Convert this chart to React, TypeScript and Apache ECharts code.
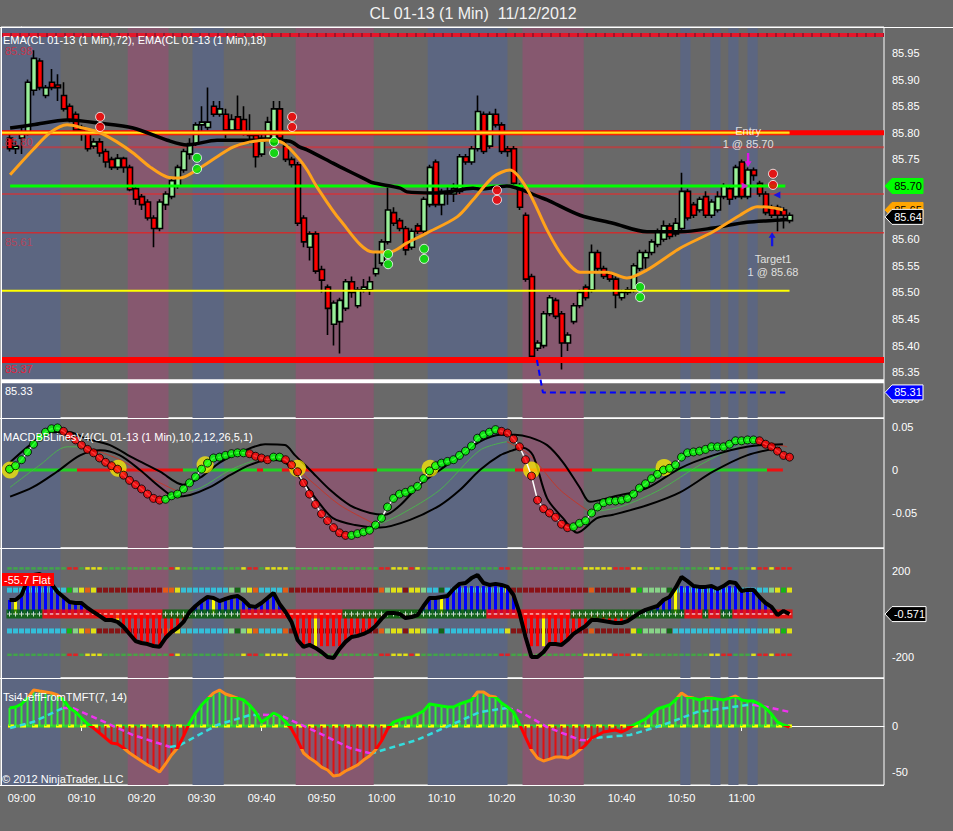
import React, { useEffect, useRef } from "react";
import * as echarts from "echarts";

const FONT = '"Liberation Sans", Arial, "DejaVu Sans", sans-serif';

// ---------- axes (x = minutes after 09:00) ----------
const FIRST_BAR = -2; // 08:58
const X_MIN = -3.42;
const X_MAX = 143.75;
const timeTicks = [0, 10, 20, 30, 40, 50, 60, 70, 80, 90, 100, 110, 120];
const priceTicks = [85.3, 85.35, 85.4, 85.45, 85.5, 85.55, 85.6, 85.65, 85.7, 85.75, 85.8, 85.85, 85.9, 85.95];
const priceTickLabels = [85.3, 85.35, 85.4, 85.45, 85.5, 85.55, 85.6, 85.75, 85.8, 85.85, 85.9, 85.95];
const macdTicks = [0.05, 0, -0.05];
const cciTicks = [200, 0, -200];
const cciTickLabels = [200, -200];
const tsiTicks = [0, -50];
const PRICE_RANGE = [85.2639, 85.9989];
const MACD_RANGE = [-0.0907, 0.0605];
const CCI_RANGE = [-298, 307];
const TSI_RANGE = [-64.1, 52.2];

const TITLE = "CL 01-13 (1 Min)  11/12/2012";
const PRICE_LABEL = "EMA(CL 01-13 (1 Min),72), EMA(CL 01-13 (1 Min),18)";
const MACD_LABEL = "MACDBBLinesV4(CL 01-13 (1 Min),10,2,12,26,5,1)";
const TSI_LABEL = "Tsi4JeffFromTMFT(7, 14)";
const COPYRIGHT = "\u00a9 2012 NinjaTrader, LLC";
const CCI_STATE = "-55.7 Flat";

// ---------- price bars: open, close, low, high ----------
const candles = [
  [85.79, 85.77, 85.765, 85.8], [85.77, 85.775, 85.76, 85.785], [85.79, 85.8, 85.76, 85.81], [85.8, 85.895, 85.795, 85.9],
  [85.88, 85.94, 85.87, 85.955], [85.935, 85.885, 85.88, 85.94], [85.87, 85.885, 85.865, 85.89], [85.895, 85.885, 85.88, 85.92],
  [85.89, 85.885, 85.86, 85.91], [85.87, 85.845, 85.84, 85.895], [85.85, 85.825, 85.82, 85.855], [85.835, 85.805, 85.8, 85.84],
  [85.81, 85.805, 85.785, 85.815], [85.8, 85.77, 85.765, 85.805], [85.775, 85.783, 85.77, 85.79], [85.783, 85.762, 85.755, 85.79],
  [85.765, 85.745, 85.735, 85.77], [85.75, 85.735, 85.73, 85.755], [85.735, 85.752, 85.73, 85.76], [85.752, 85.735, 85.725, 85.755],
  [85.735, 85.693, 85.69, 85.74], [85.695, 85.675, 85.665, 85.7], [85.68, 85.665, 85.655, 85.685], [85.67, 85.64, 85.635, 85.675],
  [85.64, 85.62, 85.585, 85.645], [85.62, 85.67, 85.615, 85.675], [85.665, 85.685, 85.655, 85.69], [85.68, 85.71, 85.675, 85.715],
  [85.7, 85.735, 85.695, 85.74], [85.73, 85.765, 85.725, 85.77], [85.76, 85.78, 85.75, 85.79], [85.78, 85.815, 85.775, 85.82],
  [85.815, 85.82, 85.8, 85.85], [85.81, 85.82, 85.805, 85.885], [85.85, 85.835, 85.83, 85.86], [85.835, 85.845, 85.83, 85.86],
  [85.835, 85.805, 85.79, 85.845], [85.805, 85.825, 85.8, 85.835], [85.83, 85.805, 85.8, 85.87], [85.825, 85.8, 85.795, 85.85],
  [85.8, 85.795, 85.78, 85.835], [85.795, 85.755, 85.735, 85.8], [85.76, 85.79, 85.755, 85.8], [85.79, 85.82, 85.785, 85.83],
  [85.78, 85.845, 85.775, 85.86], [85.845, 85.79, 85.785, 85.86], [85.775, 85.75, 85.745, 85.785], [85.75, 85.74, 85.735, 85.755],
  [85.74, 85.63, 85.625, 85.745], [85.64, 85.595, 85.585, 85.645], [85.585, 85.61, 85.56, 85.615], [85.61, 85.54, 85.535, 85.615],
  [85.543, 85.523, 85.5, 85.55], [85.51, 85.47, 85.42, 85.515], [85.44, 85.48, 85.4, 85.485], [85.445, 85.485, 85.385, 85.49],
  [85.47, 85.52, 85.465, 85.525], [85.52, 85.5, 85.49, 85.53], [85.475, 85.505, 85.47, 85.51], [85.505, 85.51, 85.5, 85.525],
  [85.505, 85.52, 85.495, 85.53], [85.535, 85.545, 85.53, 85.575], [85.555, 85.595, 85.55, 85.6], [85.595, 85.655, 85.59, 85.7],
  [85.65, 85.63, 85.625, 85.66], [85.635, 85.62, 85.615, 85.64], [85.62, 85.58, 85.57, 85.625], [85.585, 85.615, 85.58, 85.62],
  [85.625, 85.615, 85.61, 85.63], [85.615, 85.675, 85.61, 85.68], [85.665, 85.735, 85.66, 85.74], [85.745, 85.665, 85.66, 85.75],
  [85.665, 85.69, 85.645, 85.695], [85.69, 85.685, 85.665, 85.7], [85.685, 85.695, 85.67, 85.705], [85.69, 85.755, 85.685, 85.76],
  [85.755, 85.745, 85.74, 85.76], [85.745, 85.77, 85.74, 85.775], [85.77, 85.84, 85.765, 85.87], [85.835, 85.765, 85.76, 85.84],
  [85.775, 85.835, 85.77, 85.84], [85.835, 85.815, 85.81, 85.845], [85.815, 85.765, 85.76, 85.82], [85.77, 85.765, 85.755, 85.775],
  [85.77, 85.705, 85.7, 85.775], [85.7, 85.66, 85.655, 85.705], [85.645, 85.525, 85.52, 85.65], [85.53, 85.38, 85.37, 85.535],
  [85.395, 85.405, 85.39, 85.41], [85.4, 85.46, 85.395, 85.465], [85.46, 85.49, 85.455, 85.495], [85.485, 85.455, 85.45, 85.49],
  [85.46, 85.405, 85.355, 85.465], [85.405, 85.42, 85.39, 85.425], [85.445, 85.475, 85.44, 85.48], [85.475, 85.5, 85.47, 85.505],
  [85.51, 85.49, 85.485, 85.515], [85.505, 85.575, 85.5, 85.59], [85.575, 85.545, 85.54, 85.58], [85.545, 85.53, 85.525, 85.55],
  [85.535, 85.525, 85.52, 85.54], [85.525, 85.495, 85.47, 85.53], [85.49, 85.5, 85.485, 85.505], [85.5, 85.505, 85.495, 85.51],
  [85.505, 85.55, 85.5, 85.555], [85.545, 85.575, 85.54, 85.58], [85.565, 85.575, 85.545, 85.58], [85.575, 85.595, 85.57, 85.6],
  [85.59, 85.615, 85.585, 85.62], [85.6, 85.625, 85.595, 85.635], [85.625, 85.605, 85.6, 85.63], [85.61, 85.63, 85.605, 85.64],
  [85.62, 85.69, 85.615, 85.725], [85.69, 85.64, 85.635, 85.695], [85.665, 85.645, 85.64, 85.67], [85.655, 85.675, 85.65, 85.68],
  [85.68, 85.645, 85.64, 85.69], [85.645, 85.67, 85.64, 85.675], [85.655, 85.68, 85.65, 85.69], [85.68, 85.7, 85.675, 85.705],
  [85.695, 85.675, 85.665, 85.7], [85.68, 85.735, 85.675, 85.74], [85.745, 85.68, 85.675, 85.75], [85.68, 85.73, 85.675, 85.735],
  [85.73, 85.72, 85.71, 85.735], [85.705, 85.685, 85.68, 85.71], [85.685, 85.65, 85.645, 85.69], [85.66, 85.645, 85.64, 85.665],
  [85.66, 85.645, 85.615, 85.665], [85.655, 85.645, 85.62, 85.66], [85.635, 85.645, 85.63, 85.65],
];

// EMA lines: [minute, price]
const ema72 = [
  [-1.9, 85.809], [1.9, 85.815], [7.6, 85.824], [13.1, 85.818], [18.6, 85.809], [24.3, 85.786], [27.6, 85.777], [32.6, 85.786],
  [36.4, 85.786], [40.9, 85.786], [44.75, 85.784], [46.4, 85.773], [47.6, 85.768], [51.9, 85.743], [53.1, 85.736], [57.6, 85.711],
  [58.6, 85.706], [63.1, 85.696], [64.25, 85.689], [68.6, 85.687], [69.75, 85.687], [75.25, 85.696], [76.4, 85.694], [80.9, 85.7],
  [83.1, 85.694], [86.4, 85.679], [87.6, 85.674], [93.1, 85.645], [98.6, 85.63], [104.25, 85.614], [109.75, 85.614],
  [115.25, 85.621], [120.9, 85.632], [126.4, 85.636], [127.6, 85.637],
];
const ema18 = [
  [-1.9, 85.721], [1.9, 85.768], [4.75, 85.8], [7.6, 85.815], [10.25, 85.809], [13.1, 85.8], [15.9, 85.783], [18.6, 85.762],
  [21.4, 85.736], [24.25, 85.717], [26.4, 85.715], [29.75, 85.734], [32.6, 85.755], [35.25, 85.773], [38.1, 85.783], [40.9, 85.786],
  [43.6, 85.781], [46.4, 85.749], [47.6, 85.73], [49.25, 85.698], [53.1, 85.636], [58.6, 85.576], [61.4, 85.576], [64.25, 85.593],
  [67.6, 85.612], [72.6, 85.642], [75.25, 85.674], [78.6, 85.717], [81.4, 85.73], [84.25, 85.695], [87.6, 85.617], [90.25, 85.567],
  [93.1, 85.538], [97.6, 85.538], [100.9, 85.527], [104.25, 85.542], [109.75, 85.583], [115.25, 85.614], [119.75, 85.645],
  [122.6, 85.661], [125.25, 85.659], [126.9, 85.655],
];

// horizontal levels
const LEVEL_TOP = 85.984;
const LEVEL_8580 = 85.8;
const LEVEL_8577 = 85.773;
const LEVEL_8570 = 85.7;
const LEVEL_8568 = 85.685;
const LEVEL_8561 = 85.612;
const LEVEL_8550 = 85.503;
const LEVEL_8537 = 85.373;
const LEVEL_8533 = 85.333;
const LEVEL_8531 = 85.312;
const LINE_END = 128; // 11:08
const GREEN_START = -1.9;
const GREEN_END = 127.3;
const STOP_START = 85.9;

const sellDots = [[13.1, 85.83], [13.1, 85.811], [45.1, 85.83], [45.1, 85.811], [79.25, 85.692], [79.25, 85.674], [125.25, 85.723], [125.25, 85.702]];
const buyDots = [[29.25, 85.753], [29.25, 85.732], [42.1, 85.783], [42.1, 85.762], [61.1, 85.572], [61.1, 85.553], [67.1, 85.582], [67.1, 85.563], [103.1, 85.51], [103.1, 85.491]];
const entryNote = { minute: 121.1, price: 85.762, text: "Entry\n1 @ 85.70" };
const targetNote = { minute: 125.25, price: 85.578, text: "Target1\n1 @ 85.68" };
const entryArrow = [121.1, 85.749];
const targetArrow = [125.1, 85.6];
const entryFill = [120.6, 85.7];
const targetFill = [125.9, 85.683];

const shadeBands = [
  ["blue", -3.42, 6.5], ["red", 17.7, 24.5], ["blue", 28.5, 33.7], ["red", 45.7, 58.7], ["blue", 67.7, 81],
  ["red", 83.5, 93.7], ["blue", 109.8, 111.5], ["blue", 114.8, 116.5], ["blue", 117.8, 119.5], ["blue", 121, 122.7],
];

// ---------- MACD panel ----------
const macd = [
  0.001, 0.005, 0.012, 0.021, 0.03, 0.038, 0.044, 0.048, 0.049, 0.045,
  0.04, 0.035, 0.029, 0.024, 0.02, 0.014, 0.009, 0.005, 0.001, -0.006,
  -0.012, -0.017, -0.022, -0.028, -0.033, -0.035, -0.034, -0.03, -0.028, -0.022,
  -0.015, -0.008, 0.001, 0.008, 0.014, 0.015, 0.017, 0.019, 0.02, 0.02,
  0.019, 0.016, 0.014, 0.012, 0.015, 0.015, 0.012, 0.006, -0.002, -0.015,
  -0.028, -0.04, -0.051, -0.059, -0.067, -0.073, -0.076, -0.076, -0.074, -0.072,
  -0.07, -0.064, -0.056, -0.043, -0.033, -0.028, -0.026, -0.023, -0.019, -0.01,
  -0.001, 0.005, 0.008, 0.01, 0.012, 0.017, 0.022, 0.028, 0.037, 0.041,
  0.044, 0.047, 0.045, 0.043, 0.036, 0.027, 0.012, -0.007, -0.035, -0.045,
  -0.05, -0.055, -0.063, -0.067, -0.066, -0.062, -0.059, -0.05, -0.043, -0.038,
  -0.036, -0.036, -0.035, -0.033, -0.028, -0.021, -0.016, -0.01, -0.005, 0.0,
  0.002, 0.006, 0.015, 0.02, 0.021, 0.022, 0.024, 0.027, 0.027, 0.027,
  0.03, 0.034, 0.034, 0.035, 0.035, 0.034, 0.03, 0.027, 0.022, 0.017,
  0.015,
];
const macdUpper = [
  [-1.9, 0.009], [1.4, 0.029], [4.75, 0.044], [8.1, 0.044], [10.6, 0.037], [14.75, 0.029], [18.6, 0.014], [23.1, -0.002],
  [26.9, -0.017], [29.75, -0.009], [33.1, 0.009], [37.25, 0.023], [40.6, 0.03], [43.9, 0.029], [45.6, 0.017], [48.1, 0.0],
  [51.4, -0.023], [54.75, -0.041], [58.1, -0.05], [60.6, -0.052], [63.1, -0.041], [66.4, -0.017], [69.75, 0.0], [73.1, 0.017],
  [76.4, 0.033], [79.75, 0.041], [82.25, 0.041], [84.75, 0.038], [87.6, 0.029], [90.25, 0.009], [93.1, -0.021], [94.75, -0.037],
  [98.6, -0.031], [104.25, -0.021], [109.75, 0.002], [115.25, 0.017], [120.9, 0.027], [126.9, 0.03],
];
const macdLower = [
  [-1.9, -0.031], [1.9, -0.02], [5.9, -0.002], [9.75, 0.017], [13.1, 0.023], [16.4, 0.017], [19.75, 0.0], [23.1, -0.02],
  [25.6, -0.031], [28.1, -0.029], [31.4, -0.02], [34.75, -0.006], [38.1, 0.006], [41.4, 0.012], [43.9, 0.009], [46.4, -0.009],
  [49.25, -0.035], [51.9, -0.056], [55.6, -0.064], [59.75, -0.067], [64.75, -0.058], [69.75, -0.041], [73.1, -0.023], [76.4, 0.0],
  [79.75, 0.017], [81.9, 0.023], [83.6, 0.026], [85.25, 0.017], [87.6, -0.033], [90.25, -0.056], [92.6, -0.073], [95.9, -0.056],
  [98.6, -0.052], [104.25, -0.041], [109.75, -0.026], [115.25, -0.002], [120.9, 0.017], [126.4, 0.026],
];
const macdSignal = [
  [-1.9, -0.02], [3.1, 0.006], [7.6, 0.027], [10.6, 0.027], [16.4, 0.012], [21.4, -0.009], [26.4, -0.026], [29.75, -0.021],
  [34.75, 0.0], [39.9, 0.014], [43.9, 0.012], [48.1, -0.012], [53.1, -0.041], [59.25, -0.064], [63.1, -0.052], [69.75, -0.023],
  [76.4, 0.023], [80.9, 0.033], [84.75, 0.017], [89.75, -0.023], [94.75, -0.049], [99.75, -0.043], [106.4, -0.023],
  [113.1, 0.006], [119.75, 0.029], [122.6, 0.035], [127.6, 0.027],
];
const macdCrosses = [[-1.9, 0.0], [16.1, 0.002], [30.6, 0.006], [46.0, 0.002], [68.1, 0.002], [85.0, 0.0], [107.1, 0.003]];
const macdZeroSegments = [
  [-2.25, 9.25, "up"], [9.25, 26.9, "down"], [26.9, 39.25, "up"], [39.25, 40.25, "down"], [40.25, 43.4, "up"],
  [43.4, 59.25, "down"], [59.25, 82.25, "up"], [82.25, 95.1, "down"], [95.1, 124.25, "up"], [124.25, 126.9, "down"],
];

// ---------- CCI panel ----------
const cci = [
  65, 65, 88, 158, 181, 186, 172, 140, 102, 79,
  56, 51, 51, 28, 9, -9, -28, -28, -37, -60,
  -93, -126, -135, -140, -149, -153, -112, -84, -65, -37,
  9, 37, 60, 79, 74, 60, 70, 79, 84, 65,
  37, 33, 51, 74, 98, 47, 9, -37, -121, -153,
  -144, -158, -177, -200, -205, -163, -130, -107, -102, -93,
  -79, -56, -23, 5, 5, 0, -19, -14, -5, 37,
  74, 74, 79, 84, 116, 140, 144, 167, 181, 144,
  135, 140, 135, 126, 88, 5, -107, -200, -200, -177,
  -140, -140, -144, -121, -93, -74, -56, -28, -28, -33,
  -37, -42, -42, -33, -14, 5, 19, 28, 37, 65,
  79, 121, 172, 153, 130, 126, 126, 130, 116, 130,
  149, 144, 107, 112, 112, 79, 51, 33, -5, 14,
  -0.571,
];
const CCI_LAST = "-0.571";
const cciYellowBars = [-1, 16, 32, 49, 70, 87, 109];
const CCI_ROW_HI = 111;
const CCI_ROW_LO = -79;
const CCI_DASH_HI = 212;
const CCI_DASH_LO = -190;
const cciRowColors =
  "cccccccccc" + "glyoy" + "rrrrrrrrrrr" + "ooy" + "cccccccc" + "ldlyo" + "cccc" + "o" + "rrrrrrrrrrrrrrr" + "olyyryyl" +
  "cc" + "d" + "cccccccccc" + "y" + "rrrrrrrrrrrrr" + "o" + "rrrrrr" + "yg" + "llll" + "d" + "cccccccccccccccc" + "lygy";
const cciDashColors =
  "gggggggggg" + "rr" + "g" + "yyy" + "ggggggggggg" + "r" + "y" + "gggggggggg" + "y" + "rr" + "g" + "yyyy" +
  "ggggggggggggggg" + "rr" + "yyy" + "r" + "y" + "ggggggggggggg" + "rr" + "gggggggggggg" + "yyyyy" + "rrr" + "yy" +
  "ggggggggggg" + "yy" + "rr" + "ggg" + "y" + "rr" + "y" + "rrr";
const cciZeroState = [["g", 6], ["r", 20], ["g", 13], ["r", 17], ["g", 24], ["r", 14], ["g", 19], ["r", 3], ["g", 1], ["r", 2], ["g", 2], ["r", 10]];

// ---------- TSI panel ----------
const tsi = [
  19.6, 20.7, 23.9, 30.4, 39.1, 38.0, 37.0, 35.9, 33.7, 28.3,
  19.6, 15.2, 8.7, 2.2, -2.2, -7.6, -13.0, -18.5, -19.6, -23.9,
  -29.3, -33.7, -38.0, -42.4, -45.7, -50.0, -41.3, -31.5, -23.9, -10.9,
  3.3, 14.1, 22.8, 29.3, 35.9, 39.1, 34.8, 32.6, 30.4, 28.3,
  22.8, 15.2, 4.3, 8.7, 14.1, 10.9, 4.3, -3.3, -15.2, -29.3,
  -34.8, -39.1, -44.6, -47.8, -54.3, -53.3, -48.9, -45.7, -42.4, -37.0,
  -32.6, -26.1, -16.3, -3.3, 4.3, 6.5, 8.7, 9.8, 13.0, 16.3,
  23.9, 22.8, 21.7, 20.7, 20.7, 23.9, 26.1, 28.3, 37.0, 37.0,
  32.6, 31.5, 25.0, 20.7, 15.2, 2.2, -12.0, -26.1, -34.8, -38.0,
  -35.9, -33.7, -33.7, -34.8, -31.5, -26.1, -20.7, -13.0, -9.8, -6.5,
  -5.4, -4.3, -6.5, -3.3, 1.1, 4.3, 7.6, 13.0, 18.5, 20.7,
  22.8, 28.3, 35.9, 31.5, 30.4, 28.3, 30.4, 30.4, 29.3, 28.3,
  30.4, 32.6, 28.3, 27.2, 27.2, 23.9, 19.6, 13.0, 4.3, 1.1,
  -1.1,
];
const tsiSignal = [
  [-1.9, -2.2], [1.9, 4.3], [6.9, 19.6], [8.6, 19.4], [13.1, 6.5], [18.6, -9.8], [24.75, -22.8], [26.4, -20.7], [32.6, 1.1],
  [38.1, 12.0], [40.25, 12.2], [43.1, 11.8], [49.25, -6.5], [54.75, -23.9], [58.1, -29.6], [58.6, -29.3], [65.9, -15.2],
  [76.4, 15.2], [80.9, 19.6], [82.6, 17.4], [87.6, -1.1], [93.1, -15.2], [94.25, -15.4], [95.25, -13.0], [101.4, -9.8],
  [106.9, 1.1], [112.6, 15.2], [120.9, 22.8], [121.9, 23.0], [124.25, 20.7], [128.1, 15.2],
];
const TSI_HOT = 32;
const TSI_COLD = -25;

// right-hand value tags
const priceTags = [
  { v: LEVEL_8570, text: "85.70", fill: "#00ff00", color: "#000000", stroke: "" },
  { v: 85.655, text: "85.65", fill: "#ffa500", color: "#000000", stroke: "" },
  { v: 85.642, text: "85.64", fill: "#000000", color: "#ffffff", stroke: "#ffffff" },
  { v: LEVEL_8531, text: "85.31", fill: "#0000ff", color: "#ffffff", stroke: "#ffffff" },
];
const leftLevelLabels = [
  { v: LEVEL_TOP, text: "85.98", color: "rgba(225,40,60,0.8)", below: 16 },
  { v: LEVEL_8580, text: "85.80", color: "rgba(225,40,60,0.8)", below: 9.5 },
  { v: LEVEL_8561, text: "85.61", color: "rgba(200,60,80,0.8)", below: 9.5 },
  { v: LEVEL_8537, text: "85.37", color: "#e8203c", below: 9.5 },
  { v: LEVEL_8533, text: "85.33", color: "#ffffff", below: 9.5 },
];

// ---------- helpers ----------
const barX = (i: number) => FIRST_BAR + i;
const pad2 = (n: number) => (n < 10 ? "0" : "") + n;
const fmtTime = (m: number) => {
  const t = 9 * 60 + Math.round(m);
  return pad2(Math.floor(t / 60)) + ":" + pad2(t % 60);
};
function directionRuns(pts: number[][]) {
  const runs: { up: boolean; pts: number[][] }[] = [];
  for (let i = 1; i < pts.length; i++) {
    const up = pts[i][1] >= pts[i - 1][1];
    const last = runs[runs.length - 1];
    if (last && last.up === up) last.pts.push(pts[i]);
    else runs.push({ up, pts: [pts[i - 1], pts[i]] });
  }
  return runs;
}
const expandRuns = (runs: any[]) => {
  const out: string[] = [];
  runs.forEach(([k, n]) => { for (let j = 0; j < n; j++) out.push(k); });
  return out;
};

function buildOption() {
  const series: any[] = [];
  const add = (s: any) => {
    series.push({ animation: false, silent: true, ...s });
    return series.length - 1;
  };
  const ranges = [PRICE_RANGE, MACD_RANGE, CCI_RANGE, TSI_RANGE];
  const shade: any = { blue: "#5c6681", red: "#86586f" };
  for (let g = 0; g < 4; g++) {
    add({
      type: "line", xAxisIndex: g, yAxisIndex: g, symbol: "none", lineStyle: { width: 0 },
      data: [[X_MIN - 20, ranges[g][0] - 1000]],
      markArea: {
        silent: true, label: { show: false },
        data: shadeBands.map(([k, a, b]: any) => [{ xAxis: a, itemStyle: { color: shade[k], opacity: 1 } }, { xAxis: b }]),
      },
    });
  }
  const seg = (g: number, pts: any[], color: string, width: number, type: any = "solid", z = 2, smooth: any = false) =>
    add({ type: "line", xAxisIndex: g, yAxisIndex: g, data: pts, symbol: "none", smooth, lineStyle: { color, width, type, cap: "butt" }, z });

  // ---- price ----
  seg(0, [[X_MIN, LEVEL_8577], [X_MAX, LEVEL_8577]], "rgba(235,40,40,0.55)", 2);
  seg(0, [[X_MIN, LEVEL_8568], [X_MAX, LEVEL_8568]], "rgba(235,40,40,0.55)", 2);
  seg(0, [[X_MIN, LEVEL_8561], [X_MAX, LEVEL_8561]], "rgba(235,30,30,0.75)", 1.5);
  add({
    type: "candlestick", xAxisIndex: 0, yAxisIndex: 0, z: 2,
    data: candles.map((c, i) => [barX(i), c[0], c[1], c[2], c[3]]),
    encode: { x: 0, y: [1, 2, 3, 4] },
    barWidth: 5.5,
    itemStyle: { color: "#99ee99", color0: "#ff0000", borderColor: "#000000", borderColor0: "#000000", borderWidth: 1.6 },
  });
  seg(0, [[X_MIN, LEVEL_TOP], [X_MAX, LEVEL_TOP]], "#e3172b", 4, "solid", 3);
  seg(0, [[X_MIN, LEVEL_TOP], [X_MAX, LEVEL_TOP]], "#a0122a", 4, [2, 7], 3);
  seg(0, [[X_MIN, LEVEL_8580], [X_MAX, LEVEL_8580]], "#ff0000", 5, "solid", 3);
  seg(0, [[X_MIN, LEVEL_8580], [LINE_END, LEVEL_8580]], "#ff9900", 3, "solid", 3);
  seg(0, [[X_MIN, LEVEL_8580], [LINE_END, LEVEL_8580]], "#ffff33", 1, "solid", 3);
  seg(0, [[GREEN_START, LEVEL_8570], [GREEN_END, LEVEL_8570]], "#00ff00", 3, "solid", 3);
  seg(0, [[X_MIN, LEVEL_8550], [LINE_END, LEVEL_8550]], "#ffff00", 2, "solid", 3);
  seg(0, [[X_MIN, LEVEL_8537], [X_MAX, LEVEL_8537]], "#ff0000", 6, "solid", 3);
  seg(0, [[X_MIN, LEVEL_8533], [X_MAX, LEVEL_8533]], "#ffffff", 4, "solid", 3);
  seg(0, [[STOP_START, LEVEL_8537], [STOP_START + 1, LEVEL_8531], [GREEN_END, LEVEL_8531]], "#0000ff", 2, [6, 4], 3);
  seg(0, ema72, "#000000", 3.5, "solid", 4, 0.3);
  seg(0, ema18, "#ffa21a", 3, "solid", 4, 0.3);
  add({
    type: "scatter", xAxisIndex: 0, yAxisIndex: 0, z: 5, symbolSize: 9,
    data: [
      ...sellDots.map((p) => ({ value: p, itemStyle: { color: "#ff0000" } })),
      ...buyDots.map((p) => ({ value: p, itemStyle: { color: "#00ee00" } })),
    ],
    itemStyle: { borderColor: "#ffffff", borderWidth: 1 },
  });
  add({
    type: "scatter", xAxisIndex: 0, yAxisIndex: 0, z: 6,
    data: [
      { value: entryArrow, symbol: "path://M2,0H4V6H6L3,10L0,6H2Z", symbolSize: [7, 14], itemStyle: { color: "#ff00ff" } },
      { value: targetArrow, symbol: "path://M3,0L6,4H4V10H2V4H0Z", symbolSize: [7, 14], itemStyle: { color: "#0000ff" } },
      { value: entryFill, symbol: "triangle", symbolRotate: -90, symbolSize: 7, itemStyle: { color: "#ff00ff" } },
      { value: targetFill, symbol: "triangle", symbolRotate: 90, symbolSize: 7, itemStyle: { color: "#0000ff" } },
    ],
  });
  add({
    type: "scatter", xAxisIndex: 0, yAxisIndex: 0, z: 6, symbolSize: 1, itemStyle: { color: "rgba(0,0,0,0)" },
    label: { show: true, color: "#ffffff", fontSize: 11, fontFamily: FONT, lineHeight: 13, align: "center" },
    data: [
      { value: [entryNote.minute, entryNote.price], label: { position: "top", distance: 2, formatter: entryNote.text } },
      { value: [targetNote.minute, targetNote.price], label: { position: "bottom", distance: 1, formatter: targetNote.text } },
    ],
  });

  // ---- MACD ----
  macdZeroSegments.forEach(([a, b, k]: any) => seg(1, [[a, 0], [b, 0]], k === "up" ? "#22d022" : "#ee1111", 3));
  directionRuns(macdSignal).forEach((r) => seg(1, r.pts, r.up ? "#4caf50" : "#c0392b", 1, "solid", 2, 0.3));
  seg(1, macdUpper, "#000000", 2, "solid", 3, 0.3);
  seg(1, macdLower, "#000000", 2, "solid", 3, 0.3);
  add({ type: "scatter", xAxisIndex: 1, yAxisIndex: 1, z: 3, symbolSize: 17, data: macdCrosses, itemStyle: { color: "rgba(255,240,0,0.92)" } });
  const macdPts = macd.map((v, i) => [barX(i), v]);
  seg(1, macdPts, "#ffffff", 1.5, "solid", 4);
  add({
    type: "scatter", xAxisIndex: 1, yAxisIndex: 1, z: 5, symbolSize: 8,
    itemStyle: { borderColor: "#000000", borderWidth: 1 },
    data: macd.map((v, i) => ({ value: [barX(i), v], itemStyle: { color: i === 0 || v >= macd[i - 1] ? "#00ff00" : "#ff0000" } })),
  });

  // ---- CCI ----
  const rowPal: any = { c: "#2ad4f0", y: "#ffff00", o: "#ff5a00", r: "#8b0000", g: "#00c800", l: "#90ee90", d: "#006400" };
  const dashPal: any = { g: "#3cb43c", r: "#ff1010", y: "#ffff00" };
  const dashData: any[] = [];
  const rowData: any[] = [];
  for (let i = 0; i < cci.length; i++) {
    const x = barX(i);
    dashData.push({ value: [x, CCI_DASH_HI], itemStyle: { color: dashPal[cciDashColors[i]] } });
    dashData.push({ value: [x, CCI_DASH_LO], itemStyle: { color: dashPal[cciDashColors[i]] } });
    rowData.push({ value: [x, CCI_ROW_HI], itemStyle: { color: rowPal[cciRowColors[i]] } });
    rowData.push({ value: [x, CCI_ROW_LO], itemStyle: { color: rowPal[cciRowColors[i]] } });
  }
  add({ type: "scatter", xAxisIndex: 2, yAxisIndex: 2, z: 2, symbol: "rect", symbolSize: [4.5, 2.5], data: dashData });
  add({ type: "scatter", xAxisIndex: 2, yAxisIndex: 2, z: 2, symbol: "rect", symbolSize: [5, 5], data: rowData });
  add({
    type: "bar", xAxisIndex: 2, yAxisIndex: 2, z: 3, barWidth: 3,
    data: cci.map((v, i) => {
      const x = barX(i);
      const yellow = cciYellowBars.indexOf(x) >= 0;
      const shown = Math.max(-150, Math.min(130, v));
      return { value: [x, shown], itemStyle: { color: yellow ? "#ffff00" : v >= 0 ? "#0000ff" : "#ff0000" } };
    }),
  });
  const zeroState = expandRuns(cciZeroState);
  add({
    type: "scatter", xAxisIndex: 2, yAxisIndex: 2, z: 4, symbol: "rect", symbolSize: [6.2, 9],
    data: zeroState.map((k, i) => ({ value: [barX(i), 0], itemStyle: { color: k === "g" ? "#006400" : "#ff0000" } })),
  });
  add({
    type: "scatter", xAxisIndex: 2, yAxisIndex: 2, z: 5, symbol: "path://M2,0H3V2H5V3H3V5H2V3H0V2H2Z", symbolSize: 5,
    itemStyle: { color: "#ffffff" },
    data: zeroState.map((k, i) => (k === "g" ? [barX(i), 0] : null)).filter((p) => p),
  });
  add({
    type: "scatter", xAxisIndex: 2, yAxisIndex: 2, z: 5, symbol: "rect", symbolSize: [3.5, 1.3],
    itemStyle: { color: "#ffffff" },
    data: zeroState.map((k, i) => (k === "r" ? [barX(i), 0] : null)).filter((p) => p),
  });
  seg(2, cci.map((v, i) => [barX(i), v]), "#000000", 4, "solid", 6);

  // ---- TSI ----
  seg(3, [[-2.25, 0], [128.4, 0]], "#33cc33", 3, "solid", 2);
  seg(3, [[-2.25, 0], [128.4, 0]], "#ffff00", 3, [6, 6], 2);
  add({
    type: "bar", xAxisIndex: 3, yAxisIndex: 3, z: 3, barWidth: 2,
    data: tsi.map((v, i) => ({ value: [barX(i), v], itemStyle: { color: v >= 0 ? "#33ee33" : "#e01010" } })),
  });
  directionRuns(tsiSignal).forEach((r) => seg(3, r.pts, r.up ? "#33dddd" : "#ee33ee", 2.5, [6, 4], 4));
  const tsiIdx = add({
    type: "line", xAxisIndex: 3, yAxisIndex: 3, z: 5, symbol: "none",
    data: tsi.map((v, i) => [barX(i), v]),
    lineStyle: { width: 3 },
  });

  const gridBox = (top: number, height: number) => ({
    left: 1, right: 69, top, height, show: true, borderColor: "#ffffff", borderWidth: 1, backgroundColor: "transparent",
  });
  const yAx = (g: number, range: number[], ticks: number[], labels: number[], fmt: any) => ({
    type: "value", gridIndex: g, position: "right", min: range[0], max: range[1],
    axisLine: { show: true, lineStyle: { color: "#ffffff", width: 1 } },
    axisTick: { show: true, inside: false, length: 5, customValues: ticks, lineStyle: { color: "#ffffff" } },
    axisLabel: { show: true, customValues: labels, formatter: fmt, color: "#ffffff", fontSize: 11, fontFamily: FONT, margin: 8 },
    splitLine: { show: false },
  });
  const xAx = (g: number) => ({
    type: "value", gridIndex: g, min: X_MIN, max: X_MAX, show: g === 3,
    axisLine: { show: true, lineStyle: { color: "#ffffff" } },
    axisTick: { show: true, length: 5, customValues: timeTicks, lineStyle: { color: "#ffffff" } },
    axisLabel: { show: true, customValues: timeTicks, formatter: fmtTime, color: "#ffffff", fontSize: 11, fontFamily: FONT, margin: 7 },
    splitLine: { show: false },
  });

  return {
    animation: false,
    backgroundColor: "#696969",
    textStyle: { fontFamily: FONT },
    grid: [gridBox(27, 391), gridBox(418, 130), gridBox(548, 130), gridBox(678, 107)],
    xAxis: [xAx(0), xAx(1), xAx(2), xAx(3)],
    yAxis: [
      yAx(0, PRICE_RANGE, priceTicks, priceTickLabels, (v: number) => v.toFixed(2)),
      yAx(1, MACD_RANGE, macdTicks, macdTicks, (v: number) => (Math.abs(v) < 1e-9 ? "0" : v.toFixed(2))),
      yAx(2, CCI_RANGE, cciTicks, cciTickLabels, (v: number) => String(Math.round(v))),
      yAx(3, TSI_RANGE, tsiTicks, tsiTicks, (v: number) => String(Math.round(v))),
    ],
    visualMap: [
      {
        type: "piecewise", show: false, seriesIndex: tsiIdx, dimension: 1,
        pieces: [
          { gt: TSI_HOT, color: "#ff8c1a" },
          { gt: 0, lte: TSI_HOT, color: "#00ff00" },
          { gt: TSI_COLD, lte: 0, color: "#ff0000" },
          { lte: TSI_COLD, color: "#ff8c1a" },
        ],
      },
    ],
    series,
  };
}

function buildGraphic(chart: any) {
  const py = (g: number, v: number) => chart.convertToPixel({ yAxisIndex: g }, v) as number;
  const els: any[] = [];
  let z = 100;
  const font = (s: number) => `${s}px ${FONT}`;
  const text = (x: number, y: number, t: string, fill: string, size = 11, align = "left") =>
    els.push({
      type: "text", x, y, z: z++, silent: true,
      style: { text: t, fill, font: font(size), align, verticalAlign: "middle", textAlign: align, textVerticalAlign: "middle" },
    });
  const hl = (y: number, x2: number) =>
    els.push({ type: "line", z: z++, silent: true, shape: { x1: 0, y1: y, x2, y2: y }, style: { stroke: "#ffffff", lineWidth: 1 } });
  hl(27.5, 953);
  hl(418.5, 884);
  hl(548.5, 884);
  hl(678.5, 884);
  hl(785.5, 884);
  els.push({ type: "line", z: z++, silent: true, shape: { x1: 1.5, y1: 27, x2: 1.5, y2: 786 }, style: { stroke: "#ffffff", lineWidth: 1 } });
  text(473, 13.5, TITLE, "#f2f2f2", 16, "center");
  leftLevelLabels.forEach((l) => text(5, py(0, l.v) + l.below, l.text, l.color));
  text(3, 39.5, PRICE_LABEL, "#ffffff");
  text(3, 436.5, MACD_LABEL, "#ffffff");
  text(3, 696.5, TSI_LABEL, "#ffffff");
  text(2, 779, COPYRIGHT, "#ffffff");
  els.push({ type: "rect", z: z++, silent: true, shape: { x: 2, y: 573, width: 52, height: 13 }, style: { fill: "#ff0000" } });
  text(4, 579.5, CCI_STATE, "#ffffff");
  const tag = (g: number, v: number, label: string, fill: string, color: string, stroke: string) => {
    const y = py(g, v);
    const x0 = 885, x1 = 892, x2 = label.length > 5 ? 926 : 923;
    els.push({
      type: "polygon", z: z++, silent: true,
      shape: { points: [[x0, y], [x1, y - 7.5], [x2, y - 7.5], [x2, y + 7.5], [x1, y + 7.5]] },
      style: { fill, stroke: stroke || fill, lineWidth: 1 },
    });
    text((x1 + x2) / 2 + 0.5, y, label, color, 11, "center");
  };
  priceTags.forEach((t) => tag(0, t.v, t.text, t.fill, t.color, t.stroke));
  tag(2, cci[cci.length - 1], CCI_LAST, "#000000", "#ffffff", "#ffffff");
  return els;
}

export default function App() {
  const ref = useRef<HTMLDivElement | null>(null);
  useEffect(() => {
    const el = ref.current;
    if (!el) return;
    const chart = echarts.init(el, null, { renderer: "svg" });
    chart.setOption(buildOption() as any);
    chart.setOption({ graphic: { elements: buildGraphic(chart) } } as any);
    return () => chart.dispose();
  }, []);
  return (
    <div
      ref={ref}
      style={{ position: "fixed", left: 0, top: 0, width: 953, height: 831, background: "#696969" }}
    />
  );
}
